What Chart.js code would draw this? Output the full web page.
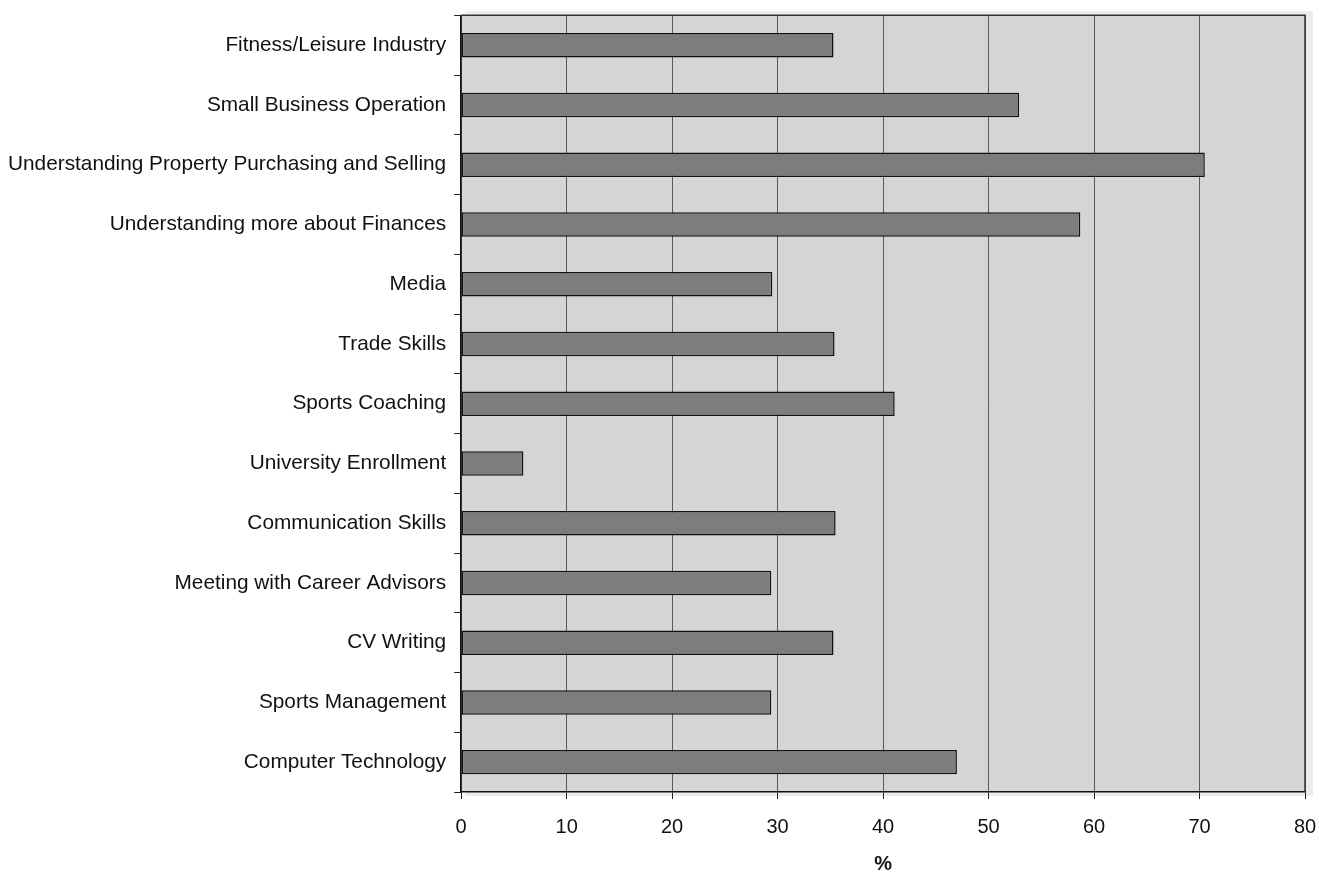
<!DOCTYPE html>
<html>
<head>
<meta charset="utf-8">
<script src="https://cdn.jsdelivr.net/npm/chart.js@4"></script>
<style>
html,body{margin:0;padding:0;background:#fff;}
#wrap{width:1319px;height:877px;}
</style>
</head>
<body>
<div id="wrap"><canvas id="c" width="1319" height="877"></canvas></div>
<script>
const categories = [
  "Fitness/Leisure Industry",
  "Small Business Operation",
  "Understanding Property Purchasing and Selling",
  "Understanding more about Finances",
  "Media",
  "Trade Skills",
  "Sports Coaching",
  "University Enrollment",
  "Communication Skills",
  "Meeting with Career Advisors",
  "CV Writing",
  "Sports Management",
  "Computer Technology"
];
const percentValues = [35.3, 52.9, 70.5, 58.7, 29.5, 35.4, 41.1, 5.9, 35.5, 29.4, 35.3, 29.4, 47.0];
const xTickValues = [0, 10, 20, 30, 40, 50, 60, 70, 80];
const xAxisTitle = "%";

const plotFrame = {
  id: 'plotFrame',
  beforeDraw(chart) {
    const {ctx, chartArea: a} = chart;
    ctx.save();
    ctx.fillStyle = '#ececec';
    ctx.fillRect(a.left + 4, a.top - 4, a.right - a.left + 4, a.bottom - a.top + 8);
    ctx.fillStyle = '#d5d5d5';
    ctx.fillRect(a.left, a.top, a.right - a.left, a.bottom - a.top);
    ctx.restore();
  },
  afterDraw(chart) {
    const {ctx, chartArea: a} = chart;
    ctx.save();
    ctx.strokeStyle = '#333';
    ctx.lineWidth = 1.5;
    ctx.beginPath();
    ctx.moveTo(a.left, a.top);
    ctx.lineTo(a.right, a.top);
    ctx.lineTo(a.right, a.bottom);
    ctx.stroke();
    ctx.restore();
  }
};

new Chart(document.getElementById('c'), {
  type: 'bar',
  data: {
    labels: categories,
    datasets: [{
      data: percentValues,
      backgroundColor: '#7d7d7d',
      borderColor: '#111',
      borderWidth: 1.5,
      borderSkipped: false,
      categoryPercentage: 1,
      barPercentage: 0.41
    }]
  },
  options: {
    indexAxis: 'y',
    responsive: false,
    animation: false,
    devicePixelRatio: 1,
    layout: { padding: { left: 0, right: 14, top: 15, bottom: 5 } },
    plugins: { legend: { display: false }, tooltip: { enabled: false } },
    scales: {
      x: {
        min: 0, max: 80,
        afterBuildTicks(scale) { scale.ticks = xTickValues.map(v => ({value: v})); },
        grid: { color: '#5a5a5a', lineWidth: 1, tickLength: 7, tickColor: '#222' },
        border: { color: '#111', width: 1.5 },
        ticks: { color: '#111', font: { family: 'Liberation Sans', size: 20, lineHeight: 2.85 }, padding: 0, maxRotation: 0 },
        title: { display: true, text: xAxisTitle, color: '#111', font: { family: 'Liberation Sans', size: 20, weight: 'bold', lineHeight: 0.8 }, padding: { top: 0, bottom: 0 } }
      },
      y: {
        grid: { drawOnChartArea: false, tickLength: 7, tickColor: '#222', offset: true },
        border: { color: '#111', width: 1.5 },
        ticks: { color: '#111', font: { family: 'Liberation Sans', size: 20.8, lineHeight: 0.7 }, padding: 8, autoSkip: false }
      }
    }
  },
  plugins: [plotFrame]
});
</script>
</body>
</html>
